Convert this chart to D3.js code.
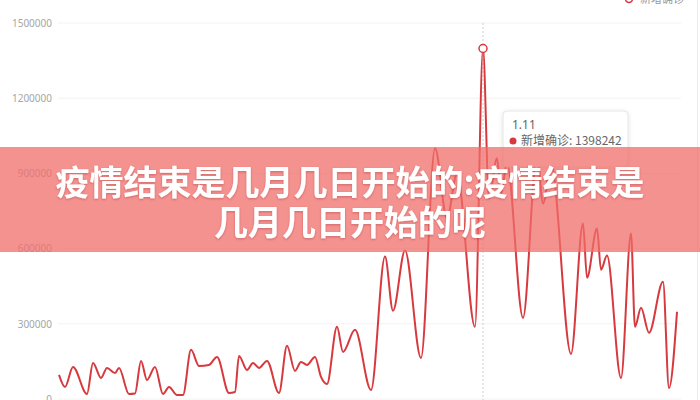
<!DOCTYPE html>
<html>
<head>
<meta charset="utf-8">
<script src="https://cdn.jsdelivr.net/npm/d3@7"></script>
<style>
  html, body { margin: 0; padding: 0; background: #fff; }
  svg { display: block; }
</style>
</head>
<body>
<svg id="chart" width="700" height="400"></svg>
<script>
// ---- data ----
const seriesName = "新增确诊";
const yTicks = [0, 300000, 600000, 900000, 1200000, 1500000];
// day offsets (since the first day shown) of the key points of the curve
const days = [0, 3, 7, 14, 17, 21, 24, 28, 30, 35, 38, 41, 44, 48, 52, 55, 59, 62, 66, 70,
  75, 79, 85, 88, 90, 94, 97, 100, 104, 110, 114, 118, 121, 124, 128, 131, 134, 139, 142, 148,
  156, 163, 167, 173, 181, 188, 194, 199, 208, 212, 215, 219, 221, 224, 232, 239, 242, 246, 256, 262,
  264, 269, 271, 274, 281, 286, 288, 291, 295, 302, 305, 309];
const values = [96000, 48000, 128000, 20000, 144000, 84000, 124000, 104000, 124000, 20000,
  22000, 152000, 76000, 128000, 20000, 48000, 16000, 16000, 196000, 132000,
  136000, 168000, 24000, 28000, 172000, 116000, 144000, 124000, 152000, 24000,
  212000, 112000, 148000, 136000, 168000, 88000, 60000, 288000, 188000, 276000,
  36000, 568000, 352000, 592000, 164000, 1000000, 720000, 900000, 288000, 1398242,
  800000, 960000, 820000, 940000, 324000, 980000, 780000, 940000, 180000, 700000,
  484000, 680000, 516000, 572000, 84000, 660000, 288000, 364000, 264000, 468000,
  44000, 348000];
const totalDays = 309;
const tipLabel = "1.11";
const tipDay = 212;
const tipValue = 1398242;
const title = ["疫情结束是几月几日开始的:疫情结束是", "几月几日开始的呢"];

// ---- drawing ----
const svg = d3.select("#chart");
const x = d3.scaleLinear().domain([0, totalDays]).range([59, 677]);
const y = d3.scaleLinear().domain([0, 1500000]).range([399, 23]);

// grid lines
svg.append("g").selectAll("line").data(yTicks).join("line")
  .attr("x1", 58).attr("x2", 681)
  .attr("y1", d => y(d)).attr("y2", d => y(d))
  .attr("stroke", "#f2f2f2").attr("stroke-width", 1);

// y axis labels
const yAxis = d3.axisLeft(y).tickValues(yTicks).tickSize(0).tickPadding(0).tickFormat(d3.format("d"));
const gy = svg.append("g").attr("transform", "translate(52,0)").call(yAxis);
gy.select(".domain").remove();
gy.selectAll("text").attr("fill", "#a6a6a6").attr("font-size", 10)
  .attr("font-family", "'Noto Sans', 'DejaVu Sans', sans-serif");

// right border
svg.append("line").attr("x1", 697.5).attr("x2", 697.5).attr("y1", 0).attr("y2", 400)
  .attr("stroke", "#ececec");

// legend (cut off at top)
svg.append("line").attr("x1", 622).attr("x2", 636).attr("y1", -1).attr("y2", -1)
  .attr("stroke", "#d63a3f").attr("stroke-width", 2);
svg.append("circle").attr("cx", 629).attr("cy", -1).attr("r", 3.5)
  .attr("fill", "#fff").attr("stroke", "#d63a3f").attr("stroke-width", 1.5);
svg.append("text").attr("x", 640).attr("y", 3).text(seriesName)
  .attr("font-size", 11).attr("fill", "#999")
  .attr("font-family", "'Noto Sans CJK SC', sans-serif");

// tooltip axis pointer
svg.append("line").attr("x1", x(tipDay)).attr("x2", x(tipDay)).attr("y1", y(1500000)).attr("y2", 400)
  .attr("stroke", "#cfcfcf").attr("stroke-dasharray", "2,2").attr("stroke-width", 1);

// line
const pts = days.map((d, i) => [d, values[i]]);
const line = d3.line().x(d => x(d[0])).y(d => y(d[1])).curve(d3.curveMonotoneX);
svg.append("path").datum(pts).attr("d", line)
  .attr("fill", "none").attr("stroke", "#d63a3f").attr("stroke-width", 2)
  .attr("stroke-linejoin", "round");

// highlighted point
svg.append("circle").attr("cx", x(tipDay)).attr("cy", y(tipValue)).attr("r", 4)
  .attr("fill", "#fff").attr("stroke", "#d63a3f").attr("stroke-width", 1.5);

// tooltip box
const defs = svg.append("defs");
const f = defs.append("filter").attr("id", "sh").attr("x", "-20%").attr("y", "-20%").attr("width", "140%").attr("height", "140%");
f.append("feDropShadow").attr("dx", 0).attr("dy", 1).attr("stdDeviation", 2).attr("flood-color", "#000").attr("flood-opacity", 0.12);
const tip = svg.append("g").attr("transform", "translate(503,111)");
tip.append("rect").attr("width", 125).attr("height", 56).attr("rx", 4)
  .attr("fill", "#fff").attr("stroke", "#e6e6e6").attr("filter", "url(#sh)");
tip.append("text").attr("x", 9).attr("y", 18).text(tipLabel)
  .attr("font-size", 12).attr("fill", "#666").attr("font-family", "'Noto Sans', sans-serif");
tip.append("circle").attr("cx", 10).attr("cy", 30).attr("r", 3.5).attr("fill", "#d63a3f");
tip.append("text").attr("x", 18).attr("y", 34).text(seriesName + ": " + d3.format("d")(tipValue))
  .attr("font-size", 12).attr("fill", "#666").attr("font-family", "'Noto Sans CJK SC', sans-serif");

// overlay band with title
svg.append("rect").attr("x", 0).attr("y", 147).attr("width", 700).attr("height", 105)
  .attr("fill", "rgb(240,110,107)").attr("fill-opacity", 0.75);
const tf = defs.append("filter").attr("id", "tsh");
tf.append("feDropShadow").attr("dx", 0).attr("dy", 1).attr("stdDeviation", 1).attr("flood-color", "#8a2020").attr("flood-opacity", 0.35);
const titleText = svg.append("text")
  .attr("text-anchor", "middle")
  .attr("font-size", 34).attr("font-weight", 700).attr("fill", "#fff")
  .attr("font-family", "'Noto Sans CJK SC', sans-serif")
  .attr("filter", "url(#tsh)");
titleText.selectAll("tspan").data(title).join("tspan")
  .attr("x", 350).attr("y", (d, i) => 195 + i * 40)
  .text(d => d);
</script>
</body>
</html>
